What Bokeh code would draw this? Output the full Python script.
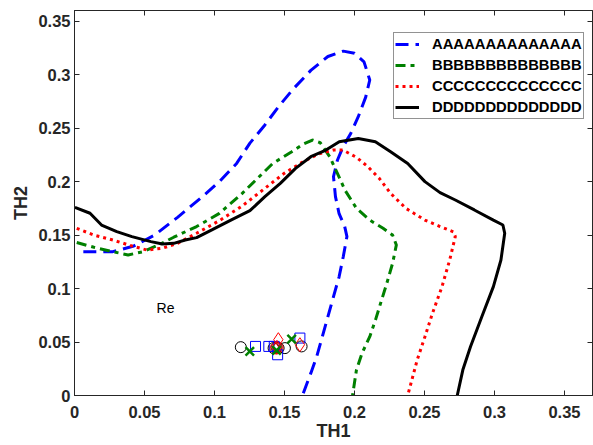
from bokeh.plotting import figure
from bokeh.models import Range1d, LinearAxis, FixedTicker, Legend, LegendItem
from bokeh.embed import file_html
from bokeh.resources import INLINE
from bokeh.core.properties import value

# ---- data ----
a_x = [0.0063, 0.0274, 0.0424, 0.0573, 0.0736, 0.090, 0.1035, 0.1158, 0.1253, 0.136, 0.1457,
       0.1565, 0.1688, 0.181, 0.192, 0.200, 0.2068, 0.2109, 0.208, 0.2027, 0.1973, 0.1918,
       0.1878, 0.185, 0.1864, 0.189, 0.193, 0.1946, 0.192, 0.189, 0.185, 0.181, 0.177,
       0.173, 0.1688, 0.1628]
a_y = [0.1345, 0.1345, 0.1398, 0.150, 0.1666, 0.1844, 0.200, 0.217, 0.236, 0.253, 0.270,
       0.287, 0.304, 0.317, 0.322, 0.320, 0.312, 0.295, 0.279, 0.2607, 0.245, 0.2326,
       0.220, 0.2046, 0.186, 0.170, 0.158, 0.1486, 0.130, 0.111, 0.0925, 0.0738, 0.055,
       0.0364, 0.0209, 0.0]

b_x = [0.0016, 0.0139, 0.0274, 0.0383, 0.0492, 0.060, 0.0709, 0.0872, 0.1035, 0.1198, 0.1307,
       0.1416, 0.1552, 0.1633, 0.170, 0.1755, 0.1823, 0.1878, 0.1932, 0.2014, 0.2109, 0.2204,
       0.2272, 0.2299, 0.2272, 0.2231, 0.219, 0.215, 0.2109, 0.2054, 0.2014, 0.1986]
b_y = [0.143, 0.1386, 0.1345, 0.1314, 0.1345, 0.1408, 0.148, 0.158, 0.1703, 0.189, 0.203,
       0.217, 0.228, 0.235, 0.2389, 0.2364, 0.2233, 0.2077, 0.192, 0.175, 0.164, 0.1563,
       0.150, 0.1408, 0.1236, 0.105, 0.0878, 0.0707, 0.055, 0.0396, 0.024, 0.0]

c_x = [0.0016, 0.0139, 0.0274, 0.041, 0.0519, 0.0628, 0.0736, 0.0872, 0.1035, 0.1198, 0.136,
       0.1497, 0.1633, 0.1742, 0.185, 0.1918, 0.2014, 0.2095, 0.2177, 0.2258, 0.2367, 0.2503,
       0.2611, 0.2707, 0.272, 0.268, 0.2625, 0.2557, 0.2503, 0.2448, 0.238]
c_y = [0.1563, 0.150, 0.1454, 0.1398, 0.136, 0.1377, 0.1423, 0.1517, 0.1635, 0.1772, 0.1937,
       0.2077, 0.2186, 0.2258, 0.2295, 0.2295, 0.2227, 0.214, 0.203, 0.189, 0.175, 0.164,
       0.158, 0.153, 0.1486, 0.1267, 0.1018, 0.0769, 0.055, 0.0333, 0.0]

d_x = [0.0003, 0.0111, 0.0193, 0.0302, 0.041, 0.0546, 0.0628, 0.0709, 0.0791, 0.0872, 0.0981,
       0.1117, 0.1253, 0.136, 0.147, 0.1579, 0.1688, 0.1796, 0.1891, 0.2027, 0.2149, 0.2258,
       0.238, 0.2503, 0.2611, 0.272, 0.2856, 0.2992, 0.306, 0.3073, 0.3046, 0.2992, 0.291,
       0.2829, 0.2774, 0.2734]
d_y = [0.176, 0.1704, 0.1594, 0.1532, 0.1486, 0.1439, 0.1417, 0.1423, 0.1454, 0.1476, 0.1548,
       0.164, 0.1728, 0.186, 0.1984, 0.2124, 0.2233, 0.2295, 0.2373, 0.2404, 0.2373, 0.228,
       0.217, 0.200, 0.1897, 0.1828, 0.1735, 0.164, 0.1594, 0.1517, 0.1267, 0.1018, 0.0738,
       0.0458, 0.024, 0.0]

circ_x = [0.1188, 0.1422, 0.1443, 0.1458, 0.1503, 0.1622]
circ_y = [0.0452, 0.0443, 0.0449, 0.0443, 0.0443, 0.0459]
rcirc_x = [0.1436, 0.1451]
rcirc_y = [0.0440, 0.0447]
sq_x = [0.1293, 0.1388, 0.1427, 0.1451, 0.161]
sq_y = [0.0459, 0.0459, 0.0459, 0.0381, 0.0537]
dia_x = [0.1456, 0.1446, 0.161]
dia_y = [0.0522, 0.0450, 0.0475]
xm_x = [0.1252, 0.1443, 0.1551]
xm_y = [0.0412, 0.0421, 0.0527]

labels = ["AAAAAAAAAAAAAA", "BBBBBBBBBBBBBB", "CCCCCCCCCCCCCC", "DDDDDDDDDDDDDD"]
note_x = [0.0586]
note_y = [0.0815]
note_text = ["Re"]

xticks = [0, 0.05, 0.1, 0.15, 0.2, 0.25, 0.3, 0.35]
xtick_labels = ["0", "0.05", "0.1", "0.15", "0.2", "0.25", "0.3", "0.35"]
yticks = [0, 0.05, 0.1, 0.15, 0.2, 0.25, 0.3, 0.35]
ytick_labels = ["0", "0.05", "0.1", "0.15", "0.2", "0.25", "0.3", "0.35"]

AX = "#262626"
FONT = "Liberation Sans"

p = figure(width=593, height=445, output_backend="svg", toolbar_location=None,
           x_range=Range1d(0, 0.37), y_range=Range1d(0, 0.36),
           min_border_left=74, min_border_right=1, min_border_top=10, min_border_bottom=50,
           x_axis_label="TH1", y_axis_label="TH2")
p.grid.visible = False
p.outline_line_color = AX
p.outline_line_width = 1
p.background_fill_color = "white"
p.border_fill_color = "white"

p.xaxis.ticker = FixedTicker(ticks=xticks)
p.yaxis.ticker = FixedTicker(ticks=yticks)
p.xaxis.major_label_overrides = dict(zip(xticks, xtick_labels))
p.yaxis.major_label_overrides = dict(zip(yticks, ytick_labels))

for ax in [p.xaxis[0], p.yaxis[0]]:
    ax.axis_line_color = AX
    ax.major_tick_line_color = AX
    ax.major_tick_in = 5
    ax.major_tick_out = 0
    ax.minor_tick_line_color = None
    ax.major_label_text_font = FONT
    ax.major_label_text_font_style = "bold"
    ax.major_label_text_font_size = "16.5px"
    ax.major_label_text_color = AX
    ax.axis_label_text_font = FONT
    ax.axis_label_text_font_style = "bold"
    ax.axis_label_text_font_size = "18px"
    ax.axis_label_text_color = AX
p.xaxis.major_label_standoff = 10
p.xaxis.axis_label_standoff = 0
p.yaxis.major_label_standoff = 4
p.yaxis.axis_label_standoff = 4

top = LinearAxis(ticker=FixedTicker(ticks=xticks))
right = LinearAxis(ticker=FixedTicker(ticks=yticks))
for ax in [top, right]:
    ax.axis_line_color = AX
    ax.major_tick_line_color = AX
    ax.major_tick_in = 5
    ax.major_tick_out = 0
    ax.minor_tick_line_color = None
    ax.major_label_text_font_size = "1px"
    ax.major_label_text_color = None
    ax.major_label_standoff = 0
p.add_layout(top, "above")
p.add_layout(right, "right")

ra = p.line(a_x, a_y, line_color="#0000FF", line_width=3, line_dash="13 7")
rb = p.line(b_x, b_y, line_color="#008000", line_width=3, line_dash="10 5 4 5")
rc = p.line(c_x, c_y, line_color="#FF0000", line_width=3, line_dash="3 4")
rd = p.line(d_x, d_y, line_color="#000000", line_width=3)

p.scatter(circ_x, circ_y, marker="circle", size=11, fill_color=None, line_color="#000000", line_width=1)
p.scatter(rcirc_x, rcirc_y, marker="circle", size=11, fill_color=None, line_color="#FF0000", line_width=1)
p.scatter(sq_x, sq_y, marker="square", size=10, fill_color=None, line_color="#0000FF", line_width=1)
p.scatter(dia_x, dia_y, marker="diamond", size=14, fill_color=None, line_color="#FF0000", line_width=1)
p.scatter(xm_x, xm_y, marker="x", size=12, line_color="#008000", line_width=2.5)

p.text(note_x, note_y, text=note_text, text_font=value(FONT), text_font_size="14px",
       text_align="left", text_baseline="middle", text_color="#000000")

legend = Legend(items=[LegendItem(label=labels[0], renderers=[ra]),
                       LegendItem(label=labels[1], renderers=[rb]),
                       LegendItem(label=labels[2], renderers=[rc]),
                       LegendItem(label=labels[3], renderers=[rd])],
                location=(319, 276))
legend.label_text_font = FONT
legend.label_text_font_style = "bold"
legend.label_text_font_size = "14.8px"
legend.label_text_color = "#000000"
legend.glyph_width = 24
legend.glyph_height = 20
legend.label_height = 20
legend.label_standoff = 13
legend.spacing = 1
legend.padding = 1
legend.margin = 0
legend.border_line_color = AX
legend.border_line_width = 1
legend.background_fill_alpha = 1
p.add_layout(legend)

open("out.html", "w").write(file_html(p, INLINE))
